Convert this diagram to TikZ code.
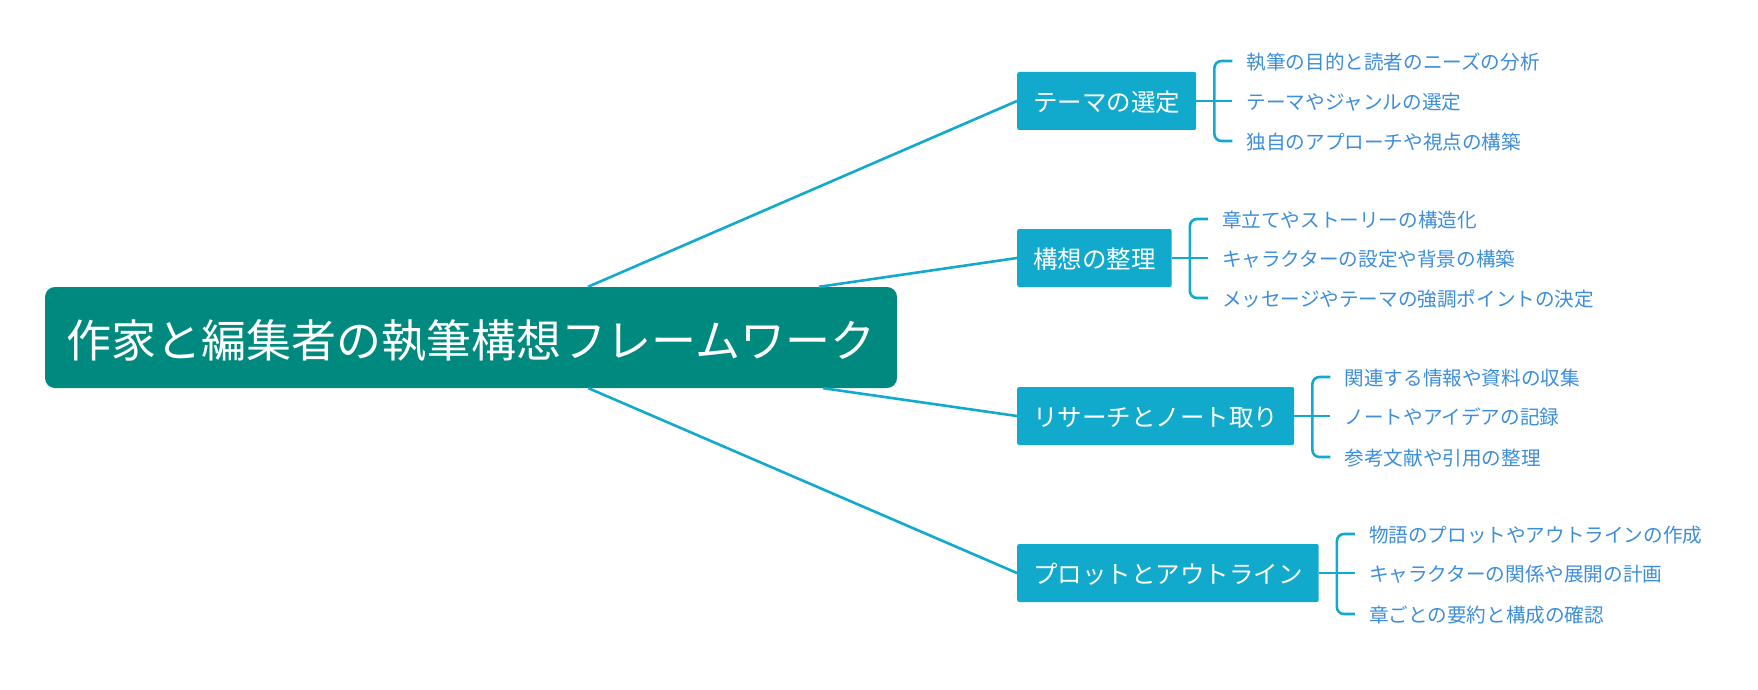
\documentclass[tikz,border=0pt]{standalone}
\usepackage{fontspec}
\setmainfont{Noto Sans CJK JP}
\usetikzlibrary{positioning,calc}
\definecolor{rootteal}{HTML}{00897F}
\definecolor{topicblue}{HTML}{12AACC}
\definecolor{leafblue}{HTML}{3C8DDB}

\tikzset{
  rootbox/.style={fill=rootteal,text=white,rounded corners=10pt,minimum width=852pt,minimum height=101pt,
    font=\fontsize{45}{50}\selectfont,text height=42pt,text depth=3pt},
  topicbox/.style={fill=topicblue,text=white,rounded corners=2pt,minimum height=58pt,inner xsep=16pt,anchor=west,
    font=\fontsize{24.5}{28}\selectfont,text height=23pt,text depth=2pt},
  leaf/.style={text=leafblue,inner xsep=14pt,inner ysep=2pt,font=\fontsize{19.6}{22}\selectfont,
    text height=18.5pt,text depth=1pt},
  trunk/.style={topicblue,line width=2.6pt},
  bracket/.style={topicblue,line width=2.6pt,rounded corners=7pt}
}

\begin{document}
\begin{tikzpicture}[x=1pt,y=-1pt]
  \useasboundingbox (0,0) rectangle (1758,690);

  % Root
  \node[rootbox] (root) at (471,337.5) {作家と編集者の執筆構想フレームワーク};

  % Topics
  \node[topicbox] (t1) at (1017,101) {テーマの選定};
  \node[topicbox] (t2) at (1017,258) {構想の整理};
  \node[topicbox] (t3) at (1017,416) {リサーチとノート取り};
  \node[topicbox] (t4) at (1017,573) {プロットとアウトライン};

  \draw[trunk] (root) -- (t1.west);
  \draw[trunk] (root) -- (t2.west);
  \draw[trunk] (root) -- (t3.west);
  \draw[trunk] (root) -- (t4.west);

  % Topic 1 leaves
  \node[leaf,anchor=west,right=36pt of t1,yshift=40pt] (t1a) {執筆の目的と読者のニーズの分析};
  \node[leaf,anchor=west,right=36pt of t1] (t1b) {テーマやジャンルの選定};
  \node[leaf,anchor=west,right=36pt of t1,yshift=-40pt] (t1c) {独自のアプローチや視点の構築};
  \coordinate (t1j) at ($(t1.east)+(18,0)$);
  \draw[bracket] (t1a.west) -| (t1j) |- (t1c.west);
  \draw[trunk] (t1.east) -- (t1b.west);

  % Topic 2 leaves
  \node[leaf,anchor=west,right=36pt of t2,yshift=39pt] (t2a) {章立てやストーリーの構造化};
  \node[leaf,anchor=west,right=36pt of t2] (t2b) {キャラクターの設定や背景の構築};
  \node[leaf,anchor=west,right=36pt of t2,yshift=-40pt] (t2c) {メッセージやテーマの強調ポイントの決定};
  \coordinate (t2j) at ($(t2.east)+(18,0)$);
  \draw[bracket] (t2a.west) -| (t2j) |- (t2c.west);
  \draw[trunk] (t2.east) -- (t2b.west);

  % Topic 3 leaves
  \node[leaf,anchor=west,right=36pt of t3,yshift=39pt] (t3a) {関連する情報や資料の収集};
  \node[leaf,anchor=west,right=36pt of t3] (t3b) {ノートやアイデアの記録};
  \node[leaf,anchor=west,right=36pt of t3,yshift=-41pt] (t3c) {参考文献や引用の整理};
  \coordinate (t3j) at ($(t3.east)+(18,0)$);
  \draw[bracket] (t3a.west) -| (t3j) |- (t3c.west);
  \draw[trunk] (t3.east) -- (t3b.west);

  % Topic 4 leaves
  \node[leaf,anchor=west,right=36pt of t4,yshift=39pt] (t4a) {物語のプロットやアウトラインの作成};
  \node[leaf,anchor=west,right=36pt of t4] (t4b) {キャラクターの関係や展開の計画};
  \node[leaf,anchor=west,right=36pt of t4,yshift=-41pt] (t4c) {章ごとの要約と構成の確認};
  \coordinate (t4j) at ($(t4.east)+(18,0)$);
  \draw[bracket] (t4a.west) -| (t4j) |- (t4c.west);
  \draw[trunk] (t4.east) -- (t4b.west);
\end{tikzpicture}
\end{document}
